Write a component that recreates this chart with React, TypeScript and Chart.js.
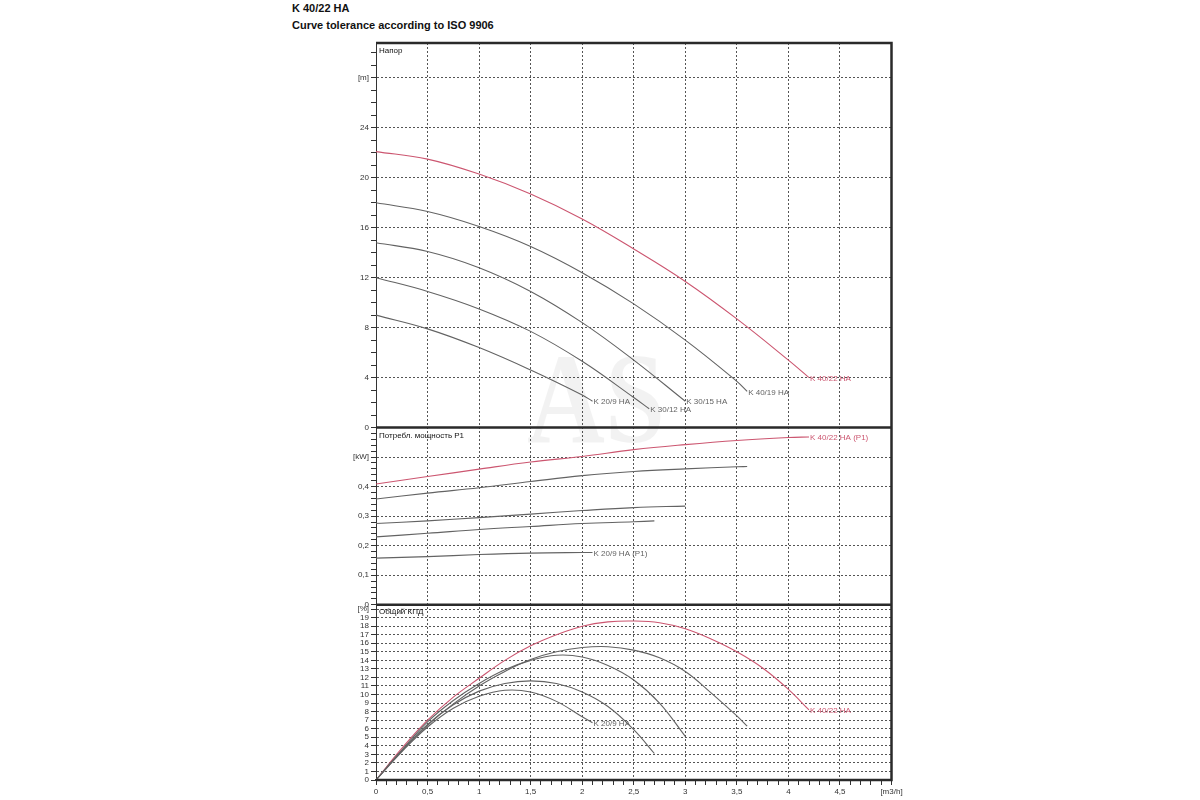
import React, { useEffect, useRef } from 'react';
import { Chart, registerables } from 'chart.js';

Chart.register(...registerables);

const RED = '#cc5670';
const GRAY = '#636363';
const AXIS = '#333333';

// Напор [m]
const headFlow209 = [0, 0.5, 1, 1.5, 2, 2.1];
const head209 = [9.0, 7.9, 6.4, 4.6, 2.6, 2.1];
const headFlow3012 = [0, 0.5, 1, 1.5, 2, 2.5, 2.65];
const head3012 = [12.0, 10.9, 9.5, 7.7, 5.3, 2.4, 1.5];
const headFlow3015 = [0, 0.5, 1, 1.5, 2, 2.5, 3.0];
const head3015 = [14.8, 14.1, 12.8, 10.9, 8.4, 5.4, 2.1];
const headFlow4019 = [0, 0.5, 1, 1.5, 2, 2.5, 3, 3.5, 3.6];
const head4019 = [18.0, 17.3, 16.1, 14.5, 12.4, 9.9, 7.0, 3.7, 2.9];
const headFlow4022 = [0, 0.5, 1, 1.5, 2, 2.5, 3, 3.5, 4, 4.2];
const head4022 = [22.1, 21.5, 20.3, 18.7, 16.7, 14.3, 11.7, 8.7, 5.4, 4.0];

// Потребл. мощность P1 [kW]
const powerFlow209 = [0, 0.5, 1, 1.5, 2, 2.1];
const power209 = [0.158, 0.163, 0.17, 0.175, 0.177, 0.177];
const powerFlow3012 = [0, 0.5, 1, 1.5, 2, 2.5, 2.7];
const power3012 = [0.23, 0.242, 0.255, 0.265, 0.275, 0.281, 0.284];
const powerFlow3015 = [0, 0.5, 1, 1.5, 2, 2.5, 3];
const power3015 = [0.275, 0.284, 0.295, 0.307, 0.319, 0.329, 0.334];
const powerFlow4019 = [0, 0.5, 1, 1.5, 2, 2.5, 3, 3.5, 3.6];
const power4019 = [0.358, 0.378, 0.396, 0.417, 0.437, 0.451, 0.46, 0.467, 0.468];
const powerFlow4022 = [0, 0.5, 1, 1.5, 2, 2.5, 3, 3.5, 4, 4.2];
const power4022 = [0.409, 0.434, 0.459, 0.483, 0.502, 0.525, 0.542, 0.556, 0.566, 0.568];

// Общий КПД [%]
const effFlow209 = [0, 0.25, 0.5, 0.75, 1, 1.25, 1.5, 1.75, 2, 2.1];
const eff209 = [0, 3.3, 6.2, 8.4, 9.8, 10.5, 10.3, 9.2, 7.4, 6.7];
const effFlow3012 = [0, 0.25, 0.5, 0.75, 1, 1.25, 1.5, 1.75, 2, 2.25, 2.5, 2.7];
const eff3012 = [0, 3.4, 6.5, 8.8, 10.4, 11.3, 11.6, 11.3, 10.3, 8.6, 5.9, 3.1];
const effFlow3015 = [0, 0.25, 0.5, 0.75, 1, 1.25, 1.5, 1.75, 2, 2.25, 2.5, 2.75, 3];
const eff3015 = [0, 3.5, 6.8, 9.3, 11.3, 12.9, 14.0, 14.6, 14.4, 13.4, 11.7, 9.0, 5.1];
const effFlow4019 = [0, 0.25, 0.5, 0.75, 1, 1.25, 1.5, 1.75, 2, 2.25, 2.5, 2.75, 3, 3.25, 3.5, 3.6];
const eff4019 = [0, 3.4, 6.4, 8.9, 11.0, 12.7, 14.1, 15.0, 15.5, 15.6, 15.2, 14.3, 12.7, 10.2, 7.5, 6.3];
const effFlow4022 = [0, 0.25, 0.5, 0.75, 1, 1.25, 1.5, 1.75, 2, 2.25, 2.5, 2.75, 3, 3.25, 3.5, 3.75, 4, 4.2];
const eff4022 = [0, 3.7, 7.0, 9.7, 11.9, 14.0, 15.7, 17.0, 18.0, 18.5, 18.6, 18.4, 17.7, 16.5, 15.0, 13.1, 10.6, 8.2];

const toPoints = (flow: number[], vals: number[]) => flow.map((x, i) => ({ x, y: vals[i] }));

const curve = (flow: number[], vals: number[], axis: string, color: string, endLabel?: string) => ({
  data: toPoints(flow, vals),
  yAxisID: axis,
  borderColor: color,
  borderWidth: 1.1,
  pointRadius: 0,
  tension: 0.4,
  endLabel,
});

const tickFont = { family: 'Arial', size: 8 };

const panelPlugin = {
  id: 'panelDecor',
  beforeDatasetsDraw(chart: any) {
    const { ctx, chartArea } = chart;
    // watermark
    ctx.save();
    ctx.fillStyle = 'rgba(0,0,0,0.05)';
    ctx.font = 'bold 130px "Liberation Serif"';
    ctx.textAlign = 'center';
    ctx.textBaseline = 'alphabetic';
    ctx.translate(chartArea.left + 220, chartArea.top + 399);
    ctx.scale(0.83, 1);
    ctx.fillText('AS', 0, 0);
    ctx.restore();
  },
  afterDraw(chart: any) {
    const { ctx, chartArea, scales } = chart;
    const { left, right, top, bottom } = chartArea;
    ctx.save();
    ctx.strokeStyle = '#2a2a2a';
    ctx.lineWidth = 2.5;
    ctx.beginPath();
    ctx.moveTo(left, top);
    ctx.lineTo(right, top);
    ctx.lineTo(right, bottom);
    ctx.lineTo(left, bottom);
    ctx.moveTo(left, scales.yHead.bottom);
    ctx.lineTo(right, scales.yHead.bottom);
    ctx.moveTo(left, scales.yPow.bottom);
    ctx.lineTo(right, scales.yPow.bottom);
    ctx.stroke();

    ctx.fillStyle = '#111';
    ctx.font = '8px Arial';
    ctx.textAlign = 'left';
    ctx.textBaseline = 'top';
    ctx.fillText('Напор', left + 3, scales.yHead.top + 4);
    ctx.fillText('Потребл. мощность P1', left + 3, scales.yPow.top + 4);
    ctx.fillText('Общий КПД', left + 3, scales.yEff.top + 3);

    ctx.textBaseline = 'middle';
    chart.data.datasets.forEach((ds: any, i: number) => {
      if (!ds.endLabel) return;
      const pts = chart.getDatasetMeta(i).data;
      const p = pts[pts.length - 1];
      ctx.fillStyle = ds.borderColor;
      ctx.fillText(ds.endLabel, p.x + 1, p.y + 1);
    });
    ctx.restore();
  },
};

const yCommon = (weight: number, min: number, max: number, step: number) => ({
  type: 'linear' as const,
  position: 'left' as const,
  stack: 'pump',
  stackWeight: weight,
  min,
  max,
  ticks: {
    stepSize: step,
    includeBounds: false,
    autoSkip: false,
    maxTicksLimit: 1000,
    font: tickFont,
    color: '#333',
    padding: 2,
  },
  border: { color: AXIS, width: 1, dash: [2, 2] },
  afterFit: (s: any) => {
    s.width = 40;
  },
});

const App: React.FC = () => {
  const canvasRef = useRef<HTMLCanvasElement>(null);
  const chartRef = useRef<Chart | null>(null);

  useEffect(() => {
    if (!canvasRef.current) return;
    if (chartRef.current) chartRef.current.destroy();

    const headY = yCommon(384.5, 0, 30.8, 1);
    const powY = yCommon(177.3, 0, 0.6, 0.02);
    const effY = yCommon(175.2, 0, 20.5, 1);

    chartRef.current = new Chart(canvasRef.current, {
      type: 'line',
      data: {
        datasets: [
          curve(headFlow209, head209, 'yHead', GRAY, 'K 20/9 HA'),
          curve(headFlow3012, head3012, 'yHead', GRAY, 'K 30/12 HA'),
          curve(headFlow3015, head3015, 'yHead', GRAY, 'K 30/15 HA'),
          curve(headFlow4019, head4019, 'yHead', GRAY, 'K 40/19 HA'),
          curve(headFlow4022, head4022, 'yHead', RED, 'K 40/22 HA'),
          curve(powerFlow209, power209, 'yPow', GRAY, 'K 20/9 HA (P1)'),
          curve(powerFlow3012, power3012, 'yPow', GRAY),
          curve(powerFlow3015, power3015, 'yPow', GRAY),
          curve(powerFlow4019, power4019, 'yPow', GRAY),
          curve(powerFlow4022, power4022, 'yPow', RED, 'K 40/22 HA (P1)'),
          curve(effFlow209, eff209, 'yEff', GRAY, 'K 20/9 HA'),
          curve(effFlow3012, eff3012, 'yEff', GRAY),
          curve(effFlow3015, eff3015, 'yEff', GRAY),
          curve(effFlow4019, eff4019, 'yEff', GRAY),
          curve(effFlow4022, eff4022, 'yEff', RED, 'K 40/22 HA'),
        ] as any,
      },
      options: {
        animation: false,
        responsive: true,
        maintainAspectRatio: false,
        layout: { padding: { left: 6, top: 13, right: 28.5, bottom: 0 } },
        plugins: { legend: { display: false }, tooltip: { enabled: false } },
        scales: {
          x: {
            type: 'linear',
            min: 0,
            max: 5,
            ticks: {
              stepSize: 0.1,
              autoSkip: false,
              maxTicksLimit: 1000,
              maxRotation: 0,
              font: tickFont,
              color: '#333',
              padding: 2,
              callback: (v: any) => {
                const n = Math.round(v * 10);
                if (n % 5 !== 0) return '';
                if (n === 50) return '[m3/h]';
                return String(n / 10).replace('.', ',');
              },
            },
            grid: {
              color: (c: any) => (c.tick && Math.round(c.tick.value * 10) % 5 === 0 ? '#555' : 'transparent'),
              tickColor: AXIS,
              tickLength: 5,
            },
            border: { color: AXIS, width: 2, dash: [2, 2] },
            afterFit: (s: any) => {
              s.height = 20;
            },
          },
          yEff: {
            ...effY,
            ticks: {
              ...effY.ticks,
              callback: (v: any) => {
                const n = Math.round(v);
                return n === 20 ? '[%]' : String(n);
              },
            },
            grid: { color: '#555', tickColor: AXIS, tickLength: 5 },
          },
          yPow: {
            ...powY,
            ticks: {
              ...powY.ticks,
              callback: (v: any) => {
                const n = Math.round(v * 100);
                if (n % 10 !== 0 || n === 60) return '';
                if (n === 0) return '0';
                if (n === 50) return '[kW]';
                return '0,' + n / 10;
              },
            },
            grid: {
              color: (c: any) => {
                const n = c.tick ? Math.round(c.tick.value * 100) : 1;
                return n % 10 === 0 && n <= 50 ? '#555' : 'transparent';
              },
              tickColor: AXIS,
              tickLength: 5,
            },
          },
          yHead: {
            ...headY,
            ticks: {
              ...headY.ticks,
              callback: (v: any) => {
                const n = Math.round(v);
                if (n % 4 !== 0) return '';
                return n === 28 ? '[m]' : String(n);
              },
            },
            grid: {
              color: (c: any) => (c.tick && Math.round(c.tick.value) % 4 === 0 ? '#555' : 'transparent'),
              tickColor: AXIS,
              tickLength: 5,
            },
          },
        },
      } as any,
      plugins: [panelPlugin],
    });

    return () => {
      if (chartRef.current) {
        chartRef.current.destroy();
        chartRef.current = null;
      }
    };
  }, []);

  return (
    <div
      style={{
        position: 'fixed',
        left: 0,
        top: 0,
        width: 1200,
        height: 800,
        background: '#fff',
        fontFamily: 'Arial, "Liberation Sans", sans-serif',
      }}
    >
      <div
        style={{
          position: 'absolute',
          left: 292,
          top: 0,
          fontWeight: 'bold',
          fontSize: 11,
          lineHeight: '17px',
          color: '#111',
        }}
      >
        <div>K 40/22 HA</div>
        <div>Curve tolerance according to ISO 9906</div>
      </div>
      <div style={{ position: 'absolute', left: 330, top: 30, width: 590, height: 770 }}>
        <canvas ref={canvasRef}></canvas>
      </div>
    </div>
  );
};

export default App;
